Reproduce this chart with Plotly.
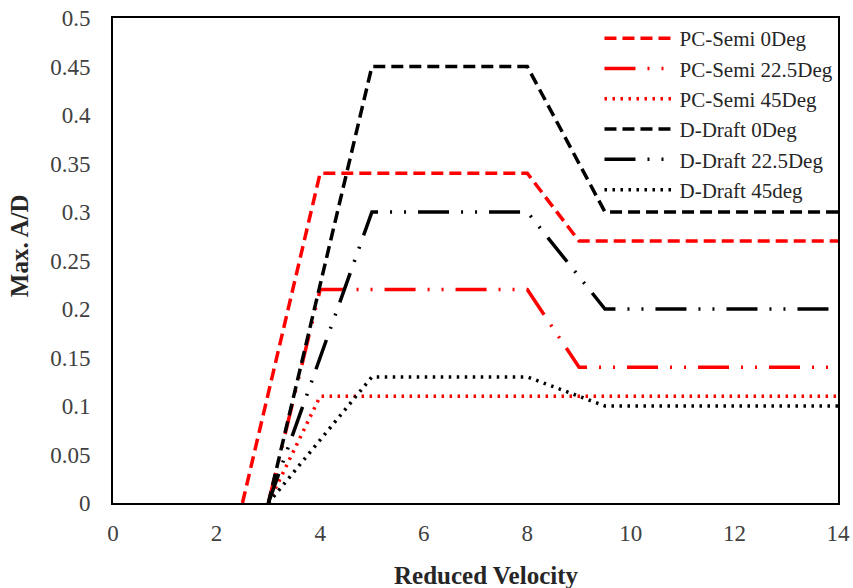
import plotly.graph_objects as go

x_tick_labels = ["0", "2", "4", "6", "8", "10", "12", "14"]
y_tick_labels = ["0", "0.05", "0.1", "0.15", "0.2", "0.25", "0.3", "0.35", "0.4", "0.45", "0.5"]

names = ["PC-Semi 0Deg", "PC-Semi 22.5Deg", "PC-Semi 45Deg",
         "D-Draft 0Deg", "D-Draft 22.5Deg", "D-Draft 45deg"]

pc0_x = [2.5, 4, 8, 9, 14]
pc0_y = [0, 0.34, 0.34, 0.27, 0.27]
pc22_x = [3, 4, 8, 9, 14]
pc22_y = [0, 0.22, 0.22, 0.14, 0.14]
pc45_x = [3, 4, 14]
pc45_y = [0, 0.11, 0.11]
dd0_x = [3, 5, 8, 9.5, 14]
dd0_y = [0, 0.45, 0.45, 0.30, 0.30]
dd22_x = [3, 5, 8, 9.5, 14]
dd22_y = [0, 0.30, 0.30, 0.20, 0.20]
dd45_x = [3, 5, 8, 9.5, 14]
dd45_y = [0, 0.13, 0.13, 0.10, 0.10]

series = [
    (pc0_x, pc0_y, "#ff0000", "12px,6px"),
    (pc22_x, pc22_y, "#ff0000", "31px,12px,2px,12px,2px,12px"),
    (pc45_x, pc45_y, "#ff0000", "2.5px,5.5px"),
    (dd0_x, dd0_y, "#000000", "12px,6px"),
    (dd22_x, dd22_y, "#000000", "31px,12px,2px,12px,2px,12px"),
    (dd45_x, dd45_y, "#000000", "2.5px,5.5px"),
]

fig = go.Figure()
for (xs, ys, col, dash), nm in zip(series, names):
    fig.add_trace(go.Scatter(x=xs, y=ys, mode="lines", name=nm,
                             line=dict(color=col, width=3.5, dash=dash)))

font_family = "Liberation Serif"
title_font = dict(family=font_family, size=25, color="#262626")
fig.update_layout(
    width=853, height=588,
    margin=dict(l=113, r=15, t=18, b=85, autoexpand=False),
    paper_bgcolor="white", plot_bgcolor="white",
    font=dict(family=font_family, size=23, color="#404040"),
    showlegend=True,
    legend=dict(x=0.671, y=1.0, xanchor="left", yanchor="top",
                bgcolor="rgba(255,255,255,0)", borderwidth=0,
                font=dict(family=font_family, size=21, color="#262626"),
                tracegroupgap=0, itemwidth=70),
    xaxis=dict(range=[0, 14], tickvals=[0, 2, 4, 6, 8, 10, 12, 14], ticktext=x_tick_labels,
               showgrid=False, zeroline=False, showline=True, linecolor="black", linewidth=2,
               mirror=True, ticks="outside", ticklen=8, tickcolor="white", automargin=False,
               ticklabeloverflow="allow"),
    yaxis=dict(range=[0, 0.5], tickvals=[0, 0.05, 0.1, 0.15, 0.2, 0.25, 0.3, 0.35, 0.4, 0.45, 0.5],
               ticktext=y_tick_labels, automargin=False, ticklabeloverflow="allow",
               showgrid=False, zeroline=False, showline=True, linecolor="black", linewidth=2,
               mirror=True, ticks="outside", ticklen=16, tickcolor="white"),
    annotations=[
        dict(text="<b>Reduced Velocity</b>", xref="paper", yref="paper",
             x=0.515, y=-0.15, xanchor="center", yanchor="middle",
             showarrow=False, font=title_font),
        dict(text="<b>Max. A/D</b>", xref="paper", yref="paper",
             x=-0.128, y=0.53, xanchor="center", yanchor="middle", textangle=-90,
             showarrow=False, font=title_font),
    ],
)

fig.write_html("out.html", config={"displayModeBar": False},
               post_script="document.body.style.margin='0px';document.body.style.overflow='hidden';")
